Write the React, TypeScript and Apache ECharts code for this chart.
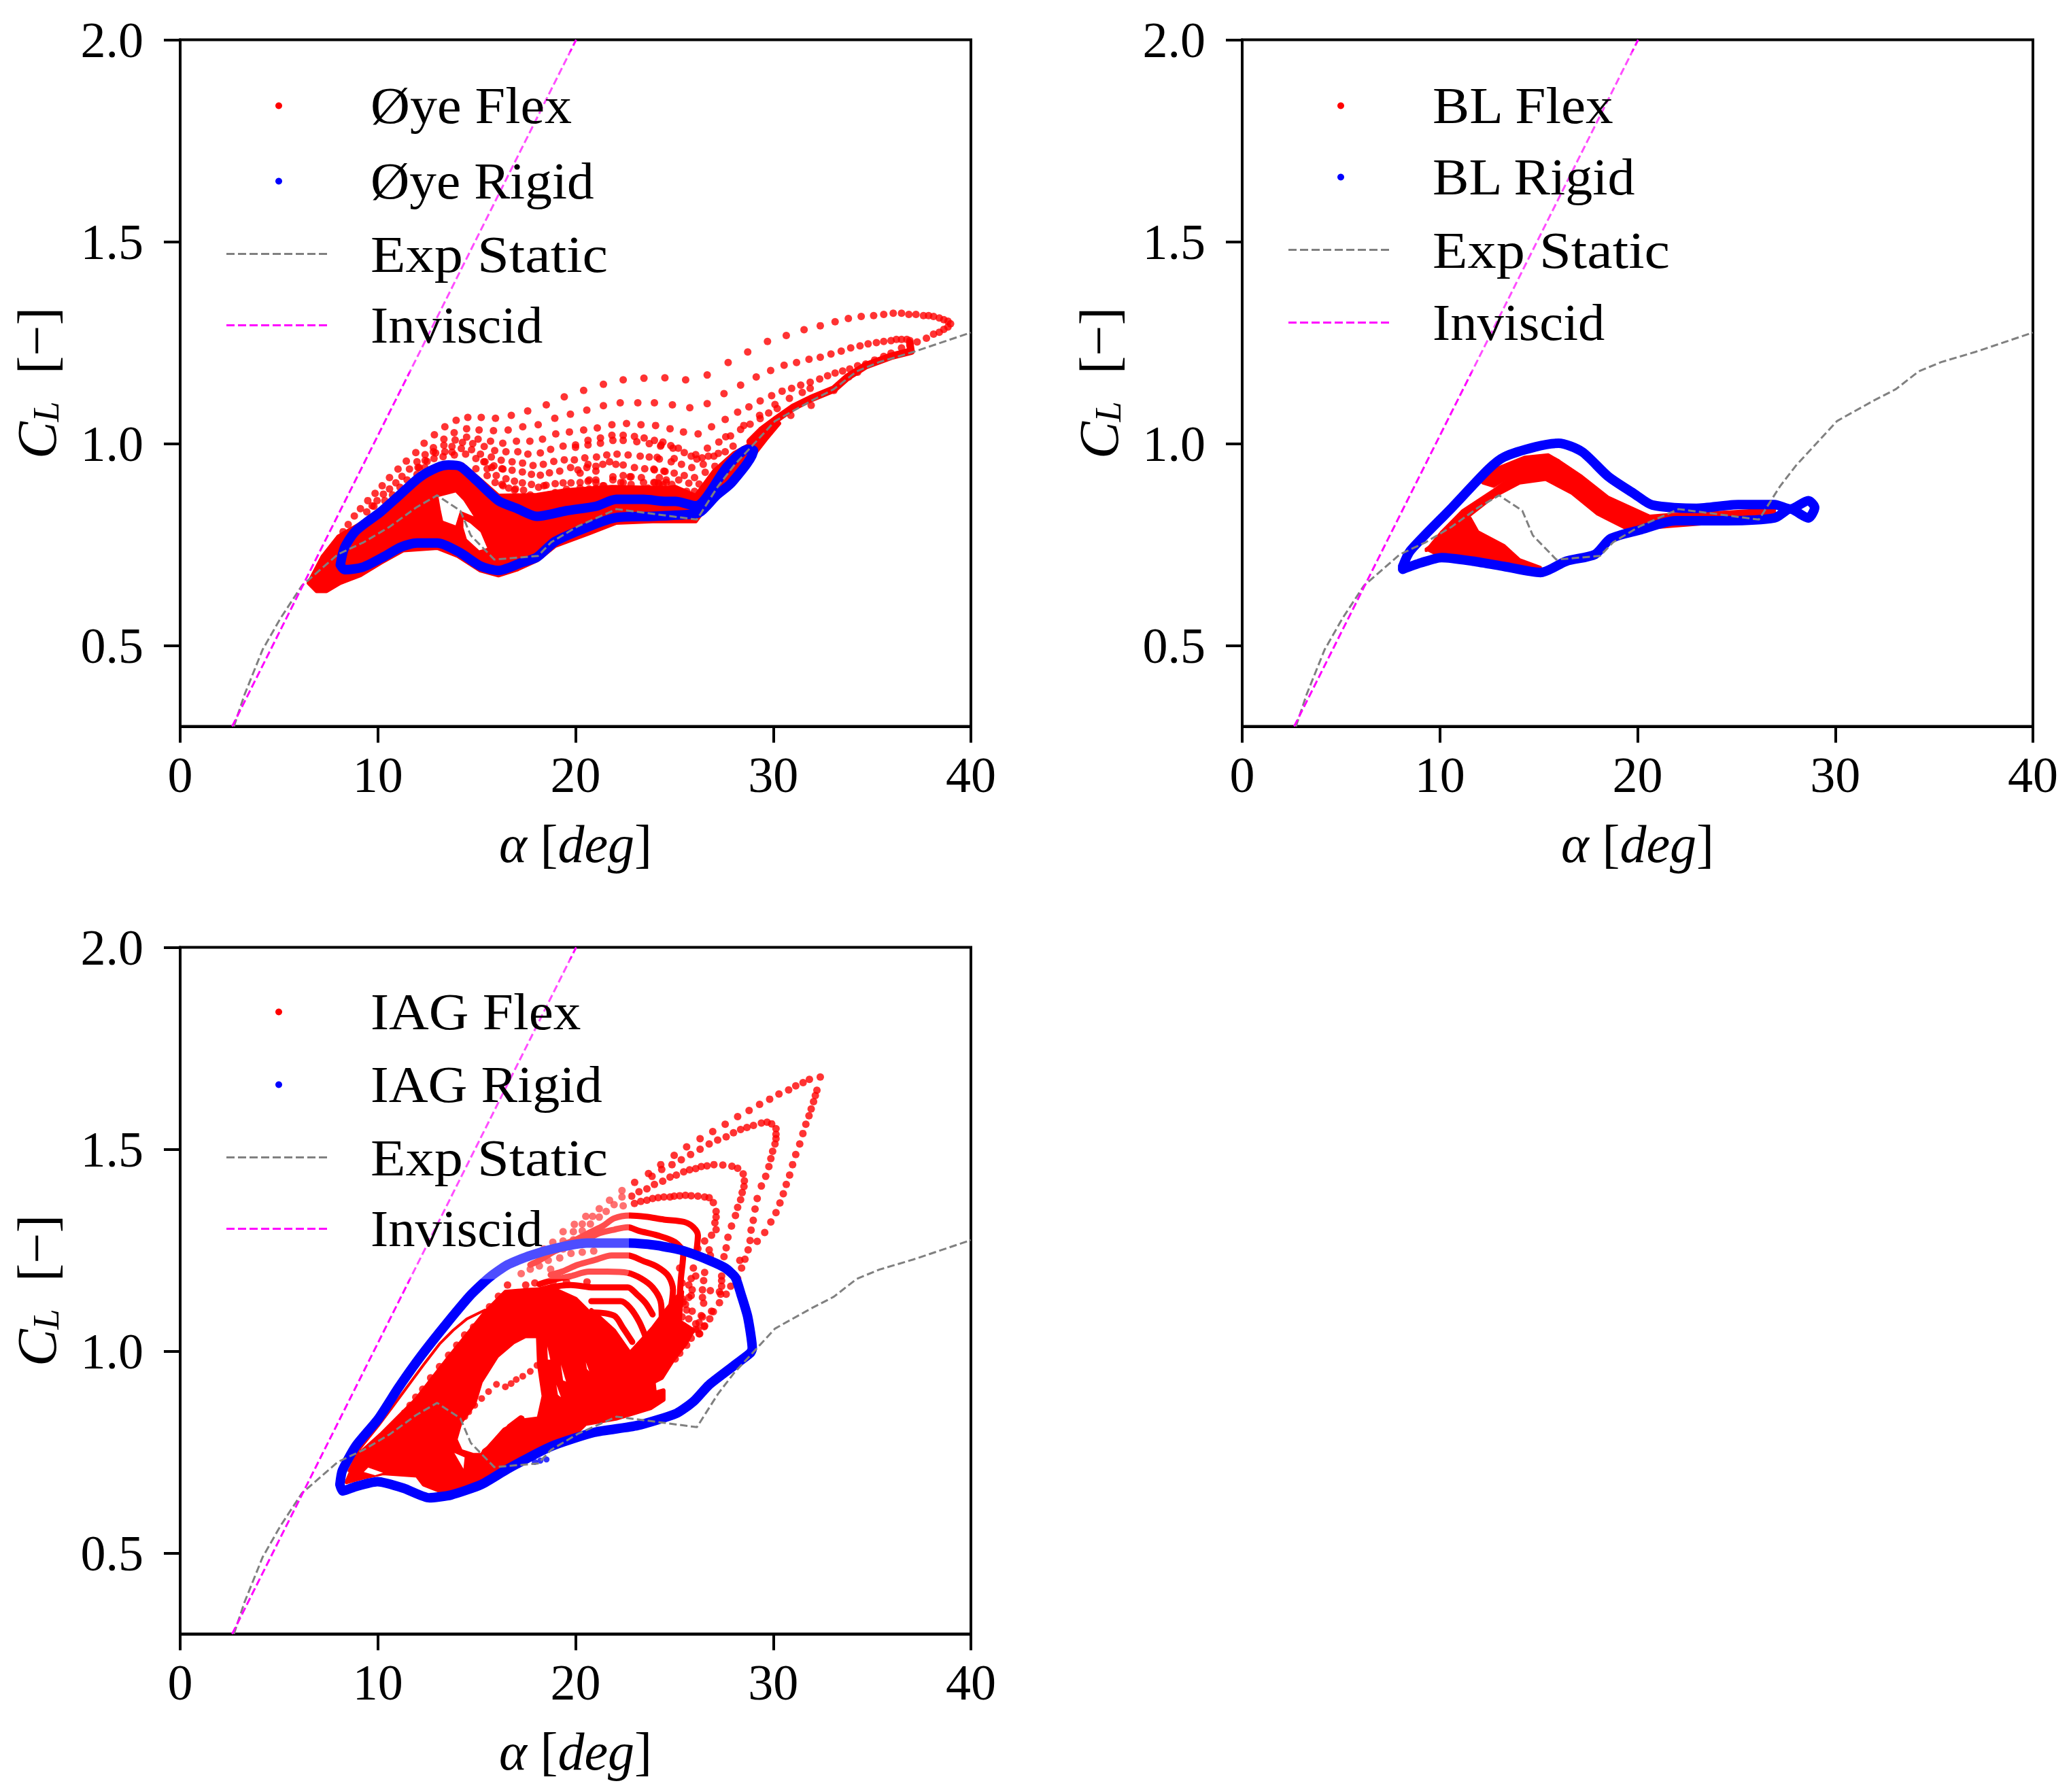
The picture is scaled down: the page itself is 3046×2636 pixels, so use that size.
import React, { useEffect, useRef } from "react";
import * as echarts from "echarts";

type P = [number, number];

const xTicks = [0, 10, 20, 30, 40];
const yTicks = [0.5, 1.0, 1.5, 2.0];

const expStatic: P[] = [[2.72,.3],[3.25,.378],[4.17,.49],[5.08,.568],[6.15,.648],[7.98,.726],[9.29,.756],[10.62,.795],[11.94,.842],[13,.872],[14.17,.834],[14.7,.773],[15.89,.713],[18.1,.722],[18.77,.756],[20.1,.795],[22.07,.838],[26.14,.812],[27.2,.894],[28,.945],[30.09,1.056],[31.92,1.106],[33.07,1.135],[34.22,1.179],[35.36,1.202],[37.08,1.227],[40,1.275]];
const inviscid: P[] = [[2.63,.3],[20.03,2.0]];

// ---------- Oye ----------
const oyeTrack1: P[] = [[37.28,1.252],[37.75,1.261],[38.11,1.271],[38.4,1.276],[38.63,1.283],[38.84,1.289],[38.97,1.297],[38.84,1.303],[38.63,1.307],[38.4,1.311],[38.11,1.315],[37.86,1.317],[37.6,1.317],[37.22,1.32],[36.86,1.32],[36.49,1.323],[36.07,1.323],[35.59,1.32],[35.08,1.317],[34.45,1.315],[33.8,1.31],[33.13,1.302],[32.38,1.292],[31.56,1.282],[30.66,1.268],[29.71,1.253],[28.71,1.227],[27.72,1.201],[26.66,1.17],[25.57,1.158],[24.52,1.163],[23.46,1.162],[22.41,1.158],[21.41,1.147],[20.41,1.132],[19.43,1.116],[18.52,1.096],[17.58,1.081],[16.75,1.07],[15.95,1.063],[15.23,1.065],[14.55,1.065],[13.96,1.058],[13.39,1.042],[12.86,1.022],[12.34,1.001],[11.92,.978],[11.44,.957],[11.02,.937],[10.59,.916],[10.22,.896],[9.86,.877],[9.49,.859],[9.12,.839],[8.81,.821],[8.5,.8],[8.24,.782]];
const oyeTrack2: P[] = [[36.91,1.244],[36.91,1.255],[36.76,1.258],[36.49,1.258],[36.23,1.258],[35.96,1.255],[35.59,1.253],[35.22,1.25],[34.8,1.247],[34.39,1.242],[33.92,1.237],[33.44,1.229],[32.92,1.222],[32.38,1.214],[31.81,1.209],[31.18,1.201],[30.55,1.194],[29.87,1.181],[29.14,1.165],[28.35,1.145],[27.51,1.124],[26.66,1.099],[25.78,1.089],[24.9,1.096],[23.99,1.101],[23.15,1.101],[22.26,1.101],[21.41,1.094],[20.57,1.083],[19.74,1.073],[18.95,1.063],[18.11,1.047],[17.33,1.042],[16.59,1.034],[15.85,1.032],[15.12,1.034],[14.49,1.037],[13.86,1.027],[13.34,1.011],[12.81,.99],[12.39,.973],[11.98,.955],[11.6,.937],[11.22,.919],[10.91,.903],[10.59,.888],[10.28,.875],[9.96,.859],[9.71,.846],[9.44,.831]];
const oyeTrack3: P[] = [[36.49,1.237],[35.96,1.224],[35.59,1.216],[35.13,1.207],[34.68,1.197],[34.27,1.193],[33.87,1.185],[33.51,1.18],[33.13,1.175],[32.75,1.168],[32.35,1.16],[31.87,1.152],[31.39,1.145],[30.93,1.137],[30.45,1.13],[29.92,1.119],[29.34,1.106],[28.77,1.091],[28.2,1.078],[27.57,1.06],[26.88,1.042],[26.2,1.024],[25.46,1.029],[24.78,1.037],[24.05,1.045],[23.31,1.047],[22.58,1.05],[21.84,1.047],[21.1,1.039],[20.41,1.034],[19.69,1.029],[19,1.024],[18.33,1.011],[17.69,1.006],[17.01,1.006],[16.32,1.001],[15.7,1.006],[15.07,1.011],[14.49,1.016],[13.91,1.009],[13.34,.996],[12.81,.98],[12.39,.958],[12.03,.941]];
const oyeTrack4: P[] = [[31.87,1.137],[31.47,1.127],[30.82,1.112],[30.2,1.087],[30.09,1.097],[29.77,1.076],[29.34,1.062],[29.31,1.07],[28.83,1.048],[28.51,1.045],[28.35,1.035],[27.84,1.019],[27.6,1.017],[27.25,1.004],[26.67,.989],[26.72,.969],[27,.969],[27.22,.976],[27.57,.98],[27.97,.994],[26.4,.965],[26.14,.962],[26.08,.973],[25.85,.969],[25.5,.978],[25.2,.989],[24.93,.989],[24.82,.995],[24.42,1.004],[24.3,.994],[23.99,1.008],[23.47,1.014],[22.98,1.018],[22.41,1.021],[21.84,1.021],[21.26,1.014],[20.63,1.008],[20,.997],[19.37,.994],[18.74,.986],[18.22,.977],[17.59,.974],[17.08,.98],[16.48,.98],[15.91,.983],[15.38,.993],[14.8,1],[14.28,1.003],[13.75,.993],[13.39,.98],[12.92,.977],[12.49,.956],[12.09,.941]];
const oyeRows1: P[] = [[24.33,.997],[23.73,1],[23.1,1.005],[22.41,1.008],[21.89,1.008],[21.26,1.001],[20.63,.997],[20,.991],[24.24,.962],[23.73,.967],[23.27,.969],[22.66,.972],[22.1,.974],[21.58,.972],[21.06,.967],[20.47,.965],[19.94,.96],[19.43,.96],[18.9,.956],[18.37,.949],[17.85,.946],[17.32,.952],[16.79,.955],[16.24,.959],[15.74,.967],[15.19,.974],[14.74,.985],[14.22,.988],[13.75,.979],[13.3,.968]];
const oyeRows2: P[] = [[24.47,.932],[23.96,.937],[23.5,.938],[22.98,.941],[22.41,.947],[22.04,.949],[21.38,.949],[21.03,.944],[20.57,.941],[20.12,.935],[19.75,.941],[19.2,.932],[18.68,.928],[18.22,.922],[17.77,.924],[17.31,.93],[16.79,.934],[16.33,.937],[15.87,.945],[15.36,.955],[24.01,.904],[23.33,.916],[22.75,.918],[22.29,.904],[21.89,.918],[21.03,.91],[20.63,.907],[20.23,.904],[19.77,.903],[19.37,.903],[18.97,.901],[18.51,.897],[18.13,.892],[17.77,.899],[17.31,.903],[16.91,.907],[16.48,.913],[15.99,.921],[15.53,.938],[11.98,.924],[12.38,.941],[12.84,.963]];
const oyeRows3: P[] = [[24.13,.966],[24.99,.963],[24.84,.955],[25.36,.949],[25.88,.941],[26.46,.949],[27.05,.944],[24.53,.931],[24.99,.927],[25.5,.921],[26.02,.916],[26.56,.929],[25.22,.91],[26.25,.9],[25.73,.902],[24.19,.902],[23.99,.935],[16.33,.896],[16.62,.89],[16.96,.888],[19.08,.877],[20.23,.882],[20.69,.888],[21.38,.896],[22.41,.904],[24.59,.904],[33.82,1.165],[34.27,1.177],[30.89,1.07],[31.92,1.095],[33.07,1.132]];
const oyeRows4: P[] = [[9.8,.845],[10.35,.859],[10.74,.873],[11.12,.892],[11.48,.91],[13.87,.972],[14.44,.974],[14.96,.963],[15.42,.955],[15.76,.941],[16.28,.938],[14.96,.938],[15.53,.921],[15.93,.904],[16.28,.899],[16.91,.885],[17.37,.885],[17.71,.873],[18.17,.868],[18.63,.873],[19.54,.873],[20.23,.879],[21.03,.89],[21.89,.91],[22.41,.921],[22.81,.918],[22.81,.899],[23.44,.904],[23.96,.904],[24.24,.899],[23.67,.89],[22.98,.887],[22.18,.887],[21.03,.904],[21.43,.896],[19.54,.887],[20.23,.89],[18.97,.879],[18.4,.896],[20.69,.91],[20.23,.927],[21.03,.932],[20.63,.949],[21.72,.955],[24.24,.916],[24.59,.91],[24.87,.899],[25.22,.882],[25.62,.882],[26.02,.882],[24.42,.899]];
const oyeBand: P[] = [[36.91,1.25],[36.97,1.229],[35.94,1.216],[34.68,1.193],[33.76,1.165],[33.07,1.135],[31.92,1.112],[31.01,1.09],[30.2,1.062],[29.4,1.033],[28.83,1.005]];
const oyeMass: P[] = [[6.5,.655],[7.2,.72],[8,.77],[9.23,.805],[10.37,.837],[11.52,.888],[12.67,.932],[13.58,.949],[14.27,.949],[15.19,.91],[16.1,.871],[18.05,.873],[19.54,.885],[21.84,.893],[24.59,.89],[25.05,.893],[26.08,.871],[27,.932],[28.03,.977],[28.9,1.0],[29.5,1.03],[30.1,1.06],[30.3,1.05],[29.63,1.011],[29.06,.975],[26.77,.854],[26.08,.808],[23.9,.808],[22.06,.804],[20.69,.778],[18.97,.747],[18.05,.711],[17.02,.688],[16.1,.674],[15.19,.686],[14.04,.722],[13.01,.742],[11.29,.736],[10.14,.705],[9.11,.674],[8.08,.655],[7.4,.635],[6.9,.635]];
const oyeHole1: P[] = [[13.07,.868],[13.93,.879],[14.33,.859],[14.84,.82],[14.16,.834],[13.93,.798],[13.3,.809],[13.18,.837]];
const oyeHole2: P[] = [[14.33,.812],[14.67,.803],[15.19,.781],[15.53,.742],[15.13,.736],[14.5,.764],[14.33,.792]];
const oyeRigid: P[] = [[8.1,.7],[8.31,.742],[8.88,.784],[10.14,.831],[11.06,.871],[12.09,.916],[13.01,.941],[13.58,.947],[14.16,.944],[14.96,.91],[16.1,.859],[17.02,.84],[18.05,.82],[19.54,.834],[21.03,.845],[22.06,.862],[23.44,.862],[24.59,.857],[25.05,.857],[26.08,.846],[27.68,.944],[28.71,.986],[29,.983],[27.91,.904],[27.11,.871],[26.25,.829],[25.05,.823],[23.9,.82],[22.06,.817],[20.69,.795],[18.97,.758],[18.05,.719],[17.25,.705],[16.1,.686],[15.19,.697],[14.16,.73],[13.01,.754],[11.98,.754],[11.17,.744],[10.26,.719],[9.23,.694],[8.31,.688],[8.1,.7]];

// ---------- BL ----------
const blWide: P[] = [[10.09,.782],[11.14,.834],[12.72,.885],[14.04,.932],[15.35,.951],[16.01,.958],[17.19,.919],[18.51,.868],[20.62,.821],[21.67,.825],[23.77,.829],[26.93,.838],[26.93,.825],[23.77,.803],[21.67,.795],[19.56,.786],[17.98,.825],[16.67,.877],[15.35,.911],[14.04,.902],[12.72,.868],[11.14,.808],[9.56,.739],[9.3,.735]];
const blThin: P[] = [[12.06,.907],[12.98,.941],[14.3,.967],[15.48,.973],[16.01,.958],[15.35,.952],[14.04,.935],[12.72,.894],[12.19,.902]];
const blLow: P[] = [[9.3,.739],[11.54,.816],[11.93,.782],[13.25,.748],[14.04,.713],[15.09,.694],[13.77,.696],[12.46,.713],[10.62,.73],[9.83,.726]];
const blRigid: P[] = [[8.12,.696],[8.51,.735],[10.62,.842],[12.46,.937],[13.25,.967],[14.83,.992],[16.01,1.001],[17.19,.98],[18.51,.919],[19.83,.876],[20.75,.848],[22.98,.84],[25.09,.849],[26.93,.849],[27.72,.838],[28.64,.859],[28.96,.842],[28.64,.816],[27.72,.838],[26.93,.816],[24.3,.809],[21.93,.809],[20.09,.786],[18.64,.765],[17.85,.726],[16.4,.709],[15.09,.681],[13.25,.696],[11.67,.709],[10.09,.718],[9.04,.705],[8.12,.689],[8.12,.696]];

// ---------- IAG ----------
const iagOuter: P[] = [[22.99,1.418],[23.69,1.44],[24.31,1.462],[24.99,1.485],[25.62,1.506],[26.3,1.526],[26.94,1.544],[27.57,1.562],[28.2,1.581],[28.78,1.596],[29.31,1.611],[29.82,1.624],[30.29,1.637],[30.78,1.647],[31.14,1.657],[31.51,1.665],[31.83,1.673],[32.38,1.679],[32.21,1.646],[32.13,1.633],[32.04,1.618],[31.92,1.6],[31.81,1.583],[31.65,1.562],[31.5,1.539],[31.34,1.513],[31.14,1.487],[30.98,1.462],[30.83,1.436],[30.66,1.413],[30.51,1.39],[30.34,1.367],[30.14,1.343],[29.88,1.32],[29.57,1.294],[29.19,1.272],[28.73,1.251],[28.57,1.228],[28.31,1.225],[28.4,1.206],[28.2,1.18],[27.62,1.141],[27.28,1.12],[26.97,1.098],[26.79,1.08],[26.51,1.061],[26.28,1.043],[25.85,1.032],[25.62,1.015],[25.04,.981]];
const iagSecond: P[] = [[22.84,1.384],[23.21,1.395],[23.61,1.402],[23.99,1.413],[23.87,1.433],[24.36,1.45],[24.88,1.462],[25.35,1.474],[25.82,1.487],[26.3,1.5],[26.76,1.513],[27.19,1.523],[27.62,1.531],[27.99,1.541],[28.35,1.549],[28.67,1.554],[29,1.559],[29.4,1.565],[29.69,1.567],[29.92,1.563],[30.14,1.551],[30.14,1.537],[30.14,1.526],[30.09,1.513],[29.97,1.495],[29.88,1.477],[29.78,1.457],[29.62,1.433],[29.4,1.409],[29.19,1.378],[29.08,1.352],[28.99,1.324],[28.88,1.3],[28.83,1.274],[27.85,1.161],[27.39,1.175],[27.34,1.141],[26.82,1.15]];
const iagThird: P[] = [[24.41,1.421],[24.78,1.431],[25.1,1.436],[25.47,1.444],[25.77,1.449],[26.08,1.452],[26.36,1.457],[26.65,1.459],[27,1.462],[27.45,1.461],[27.91,1.458],[28.2,1.453],[28.48,1.439],[28.54,1.422],[28.52,1.408],[28.43,1.393],[28.35,1.375],[28.2,1.356],[28.09,1.336],[27.89,1.31],[27.71,1.282],[27.62,1.256],[27.51,1.234],[27.39,1.186]];
const iagFourth: P[] = [[22.98,1.366],[23.3,1.371],[23.61,1.374],[23.9,1.378],[24.18,1.38],[24.47,1.382],[24.78,1.382],[24.99,1.384],[25.27,1.385],[25.56,1.386],[25.85,1.385],[26.19,1.384],[26.53,1.382],[26.76,1.38],[26.97,1.368],[27.11,1.346],[27.11,1.332],[27.05,1.318],[27.11,1.301],[26.88,1.287],[26.53,1.273],[26.19,1.254]];
const iagScatter: P[] = [[26.53,1.195],[26.48,1.175],[26.42,1.152],[26.42,1.133],[26.48,1.119],[26.36,1.088],[26.25,1.071],[25.73,1.164],[25.85,1.18],[25.96,1.206],[25.27,1.206],[25.39,1.169],[25.39,1.13],[25.73,1.133],[25.9,1.099],[25.62,1.102],[25.39,1.085],[25.45,1.063],[25.33,1.046],[26.08,1.054],[26.25,1.043],[26.76,1.251],[26.82,1.237],[22.35,1.398],[22.35,1.382],[22.41,1.36],[21.72,1.374],[21.95,1.363],[21.2,1.353],[21.55,1.346],[20.52,1.334],[20.86,1.334],[21.2,1.332],[19.94,1.314],[20.34,1.315],[20.75,1.315],[19.37,1.296],[19.89,1.296],[20.34,1.298],[18.85,1.27],[19.37,1.273],[19.89,1.276],[18.4,1.253],[18.85,1.253],[19.37,1.253],[20.34,1.245],[20.92,1.248],[19.77,1.242],[19.2,1.231],[18.62,1.225],[18.17,1.211],[17.71,1.203],[18.74,1.203],[17.25,1.192]];
const iagScatter2: P[] = [[27.28,1.147],[27.39,1.161],[26.88,1.099],[26.53,1.063],[26.19,1.054],[25.27,.995],[26.42,1.085],[26.08,1.068],[25.73,1.08],[25.56,1.116],[25.85,1.138],[26.08,1.186],[25.9,1.152],[25.45,1.122],[25.04,1.074],[24.81,1.046],[24.59,1.018],[24.93,1.032],[24.36,.979],[23.9,1.001],[24.24,1.029],[23.9,1.035],[24.47,1.057]];
const iagEdge: P[] = [[16.1,1.136],[16.56,1.164],[17.48,1.164],[17.94,1.169],[18.86,1.172],[19.54,1.172],[20.58,1.172],[15.65,1.11],[14.84,1.06],[14.39,1.04],[13.99,1.015],[13.58,.99],[13.12,.962],[12.67,.934],[12.27,.906],[11.92,.886],[11.63,.866],[11.35,.847],[11,.827],[10.72,.81],[10.43,.793]];
const iagInner: P[] = [[18.05,.965],[17.71,.95],[17.33,.938],[17,.93],[16.74,.92],[16.45,.912],[16,.918],[15.6,.9],[15.25,.883],[14.9,.866],[14.6,.85],[14.4,.838]];
const iagInnerLow: P[] = [[17.25,.833],[16.68,.812],[16.45,.796],[16.17,.785],[15.93,.774],[15.65,.759],[15.42,.751]];
const iagInnerDots: P[] = [[17.25,.8],[16.74,.782],[17.48,.796],[16.8,.763],[16.28,.765],[16.39,.751],[15.93,.738]];
const iagMass: P[] = [[8.42,.676],[9,.743],[10.14,.793],[11.18,.844],[11.98,.883],[12.78,.934],[13.58,.984],[14.5,1.04],[15.42,1.096],[16.45,1.147],[17.71,1.152],[18.86,1.155],[20,1.13],[20.92,1.085],[22.07,1.035],[22.87,.979],[23.9,.945],[24.01,.897],[24.45,.903],[24.45,.88],[23.79,.859],[22.04,.833],[20.5,.82],[20,.796],[18.86,.777],[17.71,.743],[16.1,.698],[14.73,.67],[13.35,.65],[12.32,.67],[11.98,.692],[10.26,.698],[9.23,.687]];
const iagFanMass: P[] = [[20.8,1.102],[21.95,1.051],[22.75,.995],[23.9,1.057],[24.59,1.102],[25.04,1.13],[25.39,1.147],[25.27,1.074],[25.96,1.052],[25.56,1.018],[24.93,.978],[24.36,.934],[23.44,.911],[21.61,.911]];
const iagHoleBig: P[] = [[17.48,1.032],[18,1.032],[18.05,.967],[18.28,.889],[18.05,.838],[17.25,.833],[16.33,.81],[15.42,.76],[15.19,.748],[14.84,.748],[14.27,.757],[14.04,.782],[14.27,.821],[14.96,.866],[15.3,.922],[16.1,.984],[16.91,1.018]];
const iagHoleA: P[] = [[9.29,.701],[9.51,.712],[10.26,.699],[9.86,.693]];
const iagHoleB: P[] = [[13.87,.748],[14.39,.737],[14.33,.709]];
const iagSlit1: P[] = [[19.26,.967],[19.52,.925],[19.37,.928]];
const iagSlit2: P[] = [[19.03,.917],[19.26,.886],[19.11,.892]];
const iagSlit3: P[] = [[20.52,.973],[20.69,.95],[20.58,.956]];
const iagSlit4: P[] = [[18.57,1.012],[18.72,.979],[18.6,.979]];
const iagFan1: P[] = [[17.71,1.214],[18.17,1.225],[18.74,1.242],[19.31,1.262],[20,1.276],[20.8,1.296],[21.38,1.31],[21.95,1.329],[22.75,1.336],[23.55,1.333],[24.47,1.326],[25.5,1.32],[25.96,1.307],[26.19,1.287],[26.13,1.253]];
const iagFan2: P[] = [[18.28,1.231],[18.97,1.248],[19.66,1.262],[20.46,1.276],[21.26,1.293],[21.95,1.301],[22.64,1.307],[23.21,1.298],[24.13,1.287],[25.04,1.27],[25.45,1.242],[25.33,1.18],[25.27,1.136]];
const iagFan3: P[] = [[18.74,1.189],[19.31,1.197],[20.11,1.214],[20.92,1.225],[21.83,1.237],[22.64,1.237],[23.44,1.223],[24.13,1.209],[24.7,1.186],[24.93,1.152],[24.81,1.102]];
const iagFan4: P[] = [[18.17,1.166],[18.97,1.178],[19.77,1.186],[20.69,1.197],[21.6,1.197],[22.64,1.194],[23.32,1.18],[23.9,1.158],[24.3,1.124],[24.36,1.085]];
const iagFan5: P[] = [[17.59,1.141],[18.74,1.158],[19.77,1.164],[20.92,1.158],[22.64,1.158],[23.1,1.141],[23.55,1.119],[23.9,1.091]];
const iagFan6: P[] = [[20.8,1.124],[22.29,1.124],[22.75,1.108],[23.21,1.074],[23.55,1.035]];
const iagFan7: P[] = [[20.8,1.096],[21.95,1.088],[22.41,1.057],[22.87,1.023]];
const iagThinEdge: P[] = [[15.42,1.102],[14.5,1.08],[13.81,1.052],[13.12,1.018],[12.32,.967],[11.4,.906],[10.72,.861],[10.03,.816],[9.11,.76],[8.54,.704]];
const iagRigid: P[] = [[8.08,.67],[8.2,.704],[8.88,.765],[10.03,.833],[11.06,.911],[12.21,.99],[13.47,1.068],[14.73,1.141],[15.65,1.183],[16.56,1.214],[17.71,1.237],[19.08,1.256],[20.57,1.268],[22.75,1.268],[24.13,1.262],[25.5,1.248],[26.76,1.225],[27.57,1.206],[28.08,1.183],[28.37,1.141],[28.71,1.085],[28.94,1.006],[28.83,.995],[28.25,.973],[26.76,.917],[25.98,.876],[25.1,.846],[23.13,.816],[20.94,.799],[18.75,.764],[16.55,.708],[15.24,.67],[13.7,.644],[12.6,.637],[11.29,.661],[9.98,.677],[8.88,.665],[8.22,.654],[8.08,.67]];
const iagRigidDots: P[] = [[17.94,.726],[18.22,.729],[18.53,.732]];

const legendOye = ["Øye Flex", "Øye Rigid", "Exp Static", "Inviscid"];
const legendBl = ["BL Flex", "BL Rigid", "Exp Static", "Inviscid"];
const legendIag = ["IAG Flex", "IAG Rigid", "Exp Static", "Inviscid"];

const RED = "#ff0000";
const BLUE = "#0000ff";
const GRAY = "#808080";
const MAGENTA = "#ff00ff";
const FONT = '"Liberation Serif", "Times New Roman", serif';

const dots = (i: number, data: P[], color = RED, size = 11) => ({
  type: "scatter", xAxisIndex: i, yAxisIndex: i, data, symbol: "circle", symbolSize: size,
  itemStyle: { color }, silent: true, z: 3,
});
const track = (i: number, data: P[], color: string, width: number, z = 4, dash?: number[], smooth: number | boolean = false) => ({
  type: "line", xAxisIndex: i, yAxisIndex: i, data, showSymbol: false, symbol: "none", silent: true, z, smooth,
  lineStyle: { color, width, type: dash || "solid", cap: dash ? "butt" : "round", join: "round" },
});
const area = (i: number, pts: P[], color: string, z: number, stroke = 0) => ({
  type: "custom", xAxisIndex: i, yAxisIndex: i, silent: true, z, clip: true,
  data: pts, encode: { x: 0, y: 1 },
  renderItem: (params: any, api: any) => {
    if (params.dataIndex !== 0) return undefined;
    return {
      type: "polygon",
      shape: { points: pts.map((p) => api.coord(p)) },
      style: { fill: color, stroke: stroke ? color : undefined, lineWidth: stroke, lineJoin: "round" },
    };
  },
});

const shared = (i: number) => [
  track(i, expStatic, GRAY, 3, 6, [11, 5]),
  track(i, inviscid, MAGENTA, 3, 6, [11, 5]),
];
const fan = (i: number, data: P[]) => track(i, data, RED, 9, 3, undefined, 0.3);

const series: any[] = [
  area(0, oyeMass, RED, 1, 6), area(0, oyeHole1, "#ffffff", 2), area(0, oyeHole2, "#ffffff", 2),
  dots(0, oyeTrack1), dots(0, oyeTrack2), dots(0, oyeTrack3), dots(0, oyeTrack4),
  dots(0, oyeRows1), dots(0, oyeRows2), dots(0, oyeRows3), dots(0, oyeRows4),
  track(0, oyeBand, RED, 11, 3),
  track(0, oyeRigid, BLUE, 14, 5, undefined, 0.25),
  ...shared(0),

  area(1, blWide, RED, 1, 4), area(1, blThin, RED, 1, 4), area(1, blLow, RED, 1, 4),
  track(1, blRigid, BLUE, 14, 5, undefined, 0.25),
  ...shared(1),

  area(2, iagMass, RED, 1, 6), area(2, iagFanMass, RED, 1, 6),
  area(2, iagHoleBig, "#ffffff", 2), area(2, iagHoleA, "#ffffff", 2), area(2, iagHoleB, "#ffffff", 2),
  area(2, iagSlit1, "#ffffff", 2), area(2, iagSlit2, "#ffffff", 2), area(2, iagSlit3, "#ffffff", 2), area(2, iagSlit4, "#ffffff", 2),
  dots(2, iagOuter), dots(2, iagSecond), dots(2, iagThird), dots(2, iagFourth), dots(2, iagScatter), dots(2, iagScatter2), dots(2, iagEdge), dots(2, iagInnerDots),
  dots(2, iagInner, RED, 10),
  track(2, iagInnerLow, RED, 10, 3),
  fan(2, iagFan1), fan(2, iagFan2), fan(2, iagFan3), fan(2, iagFan4), fan(2, iagFan5), fan(2, iagFan6), fan(2, iagFan7),
  track(2, iagThinEdge, RED, 4, 3),
  track(2, iagRigid, BLUE, 14, 5, undefined, 0.2),
  dots(2, iagRigidDots, BLUE, 9),
  ...shared(2),
];

const gridBoxes = [
  { left: 265, top: 58.5, width: 1163, height: 1010 },
  { left: 1827, top: 58.5, width: 1163, height: 1010 },
  { left: 265, top: 1393.5, width: 1163, height: 1010 },
];

const richX = {
  i: { fontFamily: FONT, fontStyle: "italic", fontSize: 78, color: "#000" },
  n: { fontFamily: FONT, fontSize: 78, color: "#000" },
};
const richY = {
  i: { fontFamily: FONT, fontStyle: "italic", fontSize: 82, color: "#000" },
  s: { fontFamily: FONT, fontStyle: "italic", fontSize: 54, color: "#000", verticalAlign: "bottom", padding: [28, 0, 0, 0] },
  n: { fontFamily: FONT, fontSize: 80, color: "#000" },
};

const xAxes = gridBoxes.map((_, i) => ({
  type: "value", gridIndex: i, min: 0, max: 40, interval: 10,
  name: "{i|α} {n|[}{i|deg}{n|]}", nameLocation: "middle", nameGap: 134,
  nameTextStyle: { rich: richX, fontFamily: FONT, fontSize: 78, color: "#000" },
  splitLine: { show: false },
  axisLine: { show: true, lineStyle: { color: "#000", width: 4 } },
  axisTick: { show: true, length: 24, lineStyle: { color: "#000", width: 4 } },
  axisLabel: { show: true, color: "#000", fontFamily: FONT, fontSize: 74, margin: 34, hideOverlap: false,
    customValues: xTicks, formatter: (v: number) => String(v) },
}));
const yAxes = gridBoxes.map((_, i) => ({
  type: "value", gridIndex: i, min: 0.3, max: 2.0,
  name: "{i|C}{s|L}  {n|[−]}", nameLocation: "middle", nameGap: 170, nameRotate: 90,
  nameTextStyle: { rich: richY, fontFamily: FONT, fontSize: 80, color: "#000" },
  splitLine: { show: false },
  axisLine: { show: true, lineStyle: { color: "#000", width: 4 } },
  axisTick: { show: true, length: 24, lineStyle: { color: "#000", width: 4 }, customValues: yTicks },
  axisLabel: { show: true, color: "#000", fontFamily: FONT, fontSize: 74, margin: 54,
    customValues: yTicks, formatter: (v: number) => v.toFixed(1) },
}));

const textStretch = (t: string) =>
  t === "Exp Static" ? 1.11 : t === "Inviscid" ? 1.035 : t === "Øye Rigid" ? 1.045 : t === "BL Flex" ? 1.07 : t === "IAG Flex" ? 1.07 : 1.055;

function legendGraphics(i: number, labels: string[], rows: number[]) {
  const g = gridBoxes[i];
  const out: any[] = [];
  out.push({ type: "rect", z: 20, silent: true,
    shape: { x: g.left + 20, y: g.top + 18, width: 640, height: 470, r: 12 },
    style: { fill: "rgba(255,255,255,0.3)" } });
  const dotX = g.left + 145;
  out.push({ type: "circle", z: 21, silent: true, shape: { cx: dotX, cy: g.top + rows[0], r: 5 }, style: { fill: RED } });
  out.push({ type: "circle", z: 21, silent: true, shape: { cx: dotX, cy: g.top + rows[1], r: 5 }, style: { fill: BLUE } });
  [GRAY, MAGENTA].forEach((c, k) => {
    out.push({ type: "line", z: 21, silent: true,
      shape: { x1: g.left + 68, y1: g.top + rows[2 + k], x2: g.left + 220, y2: g.top + rows[2 + k] },
      style: { stroke: c, lineWidth: 3, lineDash: [12, 5] } });
  });
  labels.forEach((t, k) => {
    out.push({ type: "text", z: 22, silent: true, x: g.left + 280, y: g.top + rows[k], scaleX: textStretch(t),
      style: { text: t, fill: "#000", fontFamily: FONT, fontSize: 76, align: "left", verticalAlign: "middle" } });
  });
  return out;
}

export default function App() {
  const ref = useRef<HTMLDivElement>(null);
  useEffect(() => {
    const chart = echarts.init(ref.current!, null, { renderer: "svg" });
    chart.setOption({
      animation: false,
      backgroundColor: "#ffffff",
      textStyle: { fontFamily: FONT },
      grid: gridBoxes.map((g) => ({ ...g, show: true, borderColor: "#000", borderWidth: 4, backgroundColor: "transparent", containLabel: false })),
      xAxis: xAxes,
      yAxis: yAxes,
      series,
      graphic: [
        ...legendGraphics(0, legendOye, [97, 208, 315, 420]),
        ...legendGraphics(1, legendBl, [97, 202, 309, 416]),
        ...legendGraphics(2, legendIag, [95, 202, 309, 414]),
      ],
    });
    return () => chart.dispose();
  }, []);
  return <div ref={ref} style={{ position: "absolute", left: 0, top: 0, width: 3046, height: 2636 }} />;
}
